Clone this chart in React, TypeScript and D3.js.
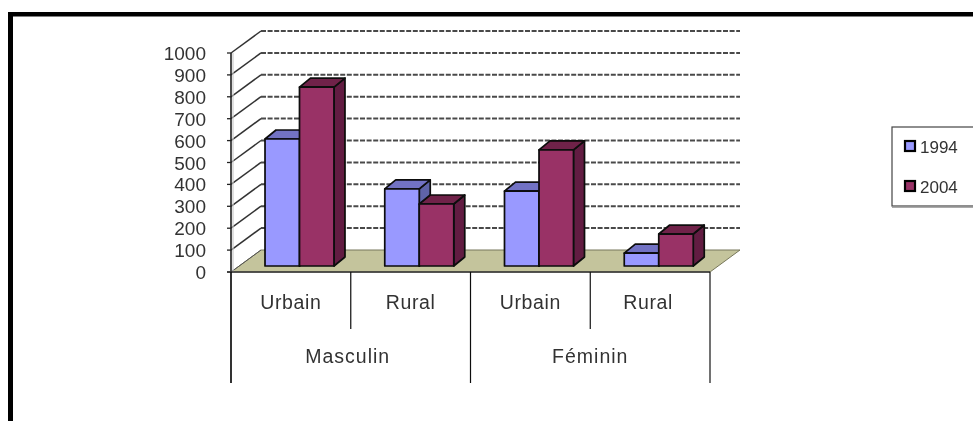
import React from "react";
import * as d3 from "d3";

const subCategories = ["Urbain", "Rural", "Urbain", "Rural"];
const groups = ["Masculin", "Féminin"];
const series = ["1994", "2004"];
const values1994 = [580, 352, 342, 59];
const values2004 = [817, 283, 530, 146];
const yTicks = [0, 100, 200, 300, 400, 500, 600, 700, 800, 900, 1000];

const font = "'Liberation Sans', Arial, sans-serif";
const DX = 30, DY = 22;
const barDX = 11, barDY = 9, barLift = 6;
const palette = [
  { front: "#9999ff", top: "#7272c4", side: "#5e64a8" },
  { front: "#993366", top: "#702448", side: "#621f42" },
];

export default function App() {
  const y = d3.scaleLinear().domain([0, 1000]).range([272, 53]);
  const x = d3.scaleBand<number>().domain([0, 1, 2, 3]).range([231, 710]);
  const inner = d3.scaleBand<string>().domain(series).range([34, 103]);
  const poly = (p: number[][]) => p.map((q) => q.join(",")).join(" ");
  const bars = [values1994, values2004];
  const y0 = y(0), x0 = 231, x1 = 710;
  const band = x.bandwidth();

  return (
    <svg width={973} height={421} style={{ position: "fixed", left: 0, top: 0, background: "#fff" }} fontFamily={font}>
      <defs>
        <filter id="soft" x="-2%" y="-2%" width="104%" height="104%">
          <feGaussianBlur stdDeviation="0.55" />
        </filter>
      </defs>
      <g filter="url(#soft)">
        <rect x={8} y={12} width={965} height={4.5} fill="#000" />
        <rect x={8} y={12} width={5} height={409} fill="#000" />

        {/* floor */}
        <polygon
          points={poly([[x0, y0], [x0 + DX, y0 - DY], [x1 + DX, y0 - DY], [x1, y0]])}
          fill="#c4c49c"
          stroke="#77775a"
          strokeWidth={1}
        />
        {/* grid */}
        {yTicks.filter((t) => t > 0).map((t) => (
          <g key={t}>
            <line x1={x0} y1={y(t)} x2={x0 + DX} y2={y(t) - DY} stroke="#333" strokeWidth={1.5} />
            <line x1={x0 + DX} y1={y(t) - DY} x2={x1 + DX} y2={y(t) - DY} stroke="#4a4a4a" strokeWidth={2} strokeDasharray="5 1.6" />
          </g>
        ))}
        <line x1={x0} y1={y0} x2={x0 + DX} y2={y0 - DY} stroke="#555" strokeWidth={1} />

        {/* axis */}
        <line x1={x0} y1={y(1000)} x2={x0} y2={y0} stroke="#222" strokeWidth={1.6} />
        <line x1={x0 + 2} y1={y(1000)} x2={x0 + 2} y2={y0} stroke="#ccc" strokeWidth={1.2} />
        {yTicks.map((t) => (
          <g key={t}>
            <line x1={x0 - 4} y1={y(t)} x2={x0} y2={y(t)} stroke="#222" strokeWidth={1.3} />
            <text x={206} y={y(t) + 7} textAnchor="end" fontSize={19} fill="#333">{t}</text>
          </g>
        ))}

        {/* bars */}
        {subCategories.map((_, c) =>
          series.map((s, i) => {
            const v = bars[i][c];
            const left = (x(c) as number) + (inner(s) as number);
            const w = inner.bandwidth();
            const top = y(v) - barLift;
            const base = y0 - barLift;
            const col = palette[i];
            return (
              <g key={c + s} stroke="#0a0a0a" strokeWidth={1.7} strokeLinejoin="round">
                <polygon points={poly([[left + w, top], [left + w + barDX, top - barDY], [left + w + barDX, base - barDY], [left + w, base]])} fill={col.side} />
                <polygon points={poly([[left, top], [left + barDX, top - barDY], [left + w + barDX, top - barDY], [left + w, top]])} fill={col.top} />
                <rect x={left} y={top} width={w} height={base - top} fill={col.front} />
              </g>
            );
          })
        )}

        {/* category axis */}
        <line x1={x0 - 4} y1={y0} x2={x1} y2={y0} stroke="#333" strokeWidth={1.4} />
        {d3.range(5).map((k) => {
          const px = x0 + k * band;
          const long = k % 2 === 0;
          return <line key={k} x1={px} y1={y0} x2={px} y2={long ? 383 : 329} stroke="#111" strokeWidth={k === 0 ? 1.7 : 1.2} />;
        })}
        {subCategories.map((c, k) => (
          <text key={k} x={(x(k) as number) + band / 2 + (k === 3 ? -2 : 0)} y={309} textAnchor="middle" fontSize={19.5} letterSpacing={0.6} fill="#333">{c}</text>
        ))}
        {groups.map((g, k) => (
          <text key={g} x={x0 + band * (2 * k + 1) + (k === 0 ? -3 : 0)} y={363} textAnchor="middle" fontSize={19.5} letterSpacing={1} fill="#333">{g}</text>
        ))}

        {/* legend */}
        <rect x={892} y={127} width={90} height={79} fill="#fff" stroke="#444" strokeWidth={1.2} />
        <line x1={892} y1={207.5} x2={973} y2={207.5} stroke="#aaa" strokeWidth={1.2} />
        {series.map((s, i) => {
          const ly = 141 + i * 40;
          return (
            <g key={s}>
              <rect x={905} y={ly} width={10} height={10} fill={palette[i].front} stroke="#000" strokeWidth={2.2} />
              <text x={920} y={ly + 12} fontSize={17} fill="#333">{s}</text>
            </g>
          );
        })}
      </g>
    </svg>
  );
}
